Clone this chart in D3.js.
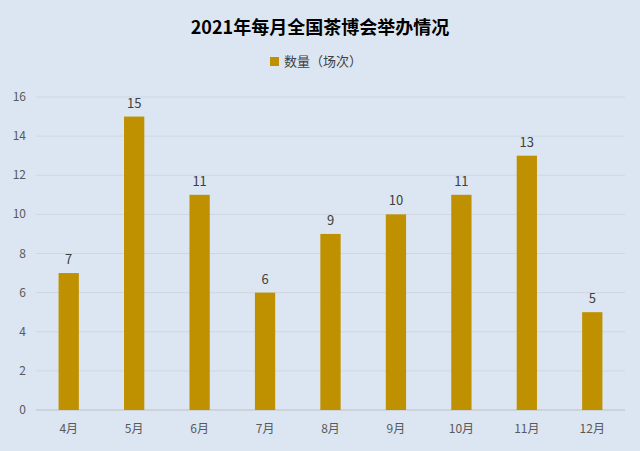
<!DOCTYPE html>
<html><head><meta charset="utf-8">
<script src="https://cdn.jsdelivr.net/npm/d3@7"></script>
<style>body{margin:0;background:#dce6f2;font-family:"Noto Sans CJK SC","Noto Sans",sans-serif;}</style>
</head><body>
<div id="chart"></div>
<script>
const months = ["4月","5月","6月","7月","8月","9月","10月","11月","12月"];
const counts = [7,15,11,6,9,10,11,13,5];
const yTicks = [0,2,4,6,8,10,12,14,16];

const W = 640, H = 451;
const margin = {top: 97, right: 15, bottom: 41, left: 36};
const width = W - margin.left - margin.right, height = H - margin.top - margin.bottom;

const svg = d3.select("#chart").append("svg").attr("width", W).attr("height", H);
svg.append("rect").attr("width", W).attr("height", H).attr("fill", "#dce6f2");

svg.append("text").attr("x", W / 2).attr("y", 34).attr("text-anchor", "middle")
  .attr("font-size", 18).attr("font-weight", "bold").attr("fill", "#000")
  .text("2021年每月全国茶博会举办情况");

const lg = svg.append("g").attr("transform", "translate(270,57)");
lg.append("rect").attr("width", 9).attr("height", 9).attr("fill", "#bf9000");
lg.append("text").attr("x", 14).attr("y", 9).attr("font-size", 13).attr("fill", "#404040").text("数量（场次）");

const g = svg.append("g").attr("transform", `translate(${margin.left},${margin.top})`);
const x = d3.scaleBand().domain(months).range([0, width]).paddingInner(0.69).paddingOuter(0.345);
const y = d3.scaleLinear().domain([0, 16]).range([height, 0]);

g.selectAll(".grid").data(yTicks).join("line")
  .attr("x1", 0).attr("x2", width).attr("y1", d => y(d)).attr("y2", d => y(d))
  .attr("stroke", d => d === 0 ? "#bfbfbf" : "#d0d6de").attr("stroke-width", 1);

g.selectAll(".ytick").data(yTicks).join("text")
  .attr("x", -10).attr("y", d => y(d) + 4).attr("text-anchor", "end")
  .attr("font-size", 12).attr("fill", "#595959").text(d => d);

g.selectAll(".bar").data(counts).join("rect")
  .attr("x", (d, i) => x(months[i])).attr("width", x.bandwidth())
  .attr("y", d => y(d)).attr("height", d => height - y(d)).attr("fill", "#bf9000");

g.selectAll(".lbl").data(counts).join("text")
  .attr("x", (d, i) => x(months[i]) + x.bandwidth() / 2).attr("y", d => y(d) - 9)
  .attr("text-anchor", "middle").attr("font-size", 13).attr("fill", "#404040").text(d => d);

g.selectAll(".xl").data(months).join("text")
  .attr("x", d => x(d) + x.bandwidth() / 2).attr("y", height + 23)
  .attr("text-anchor", "middle").attr("font-size", 12).attr("fill", "#595959").text(d => d);
</script>
</body></html>
